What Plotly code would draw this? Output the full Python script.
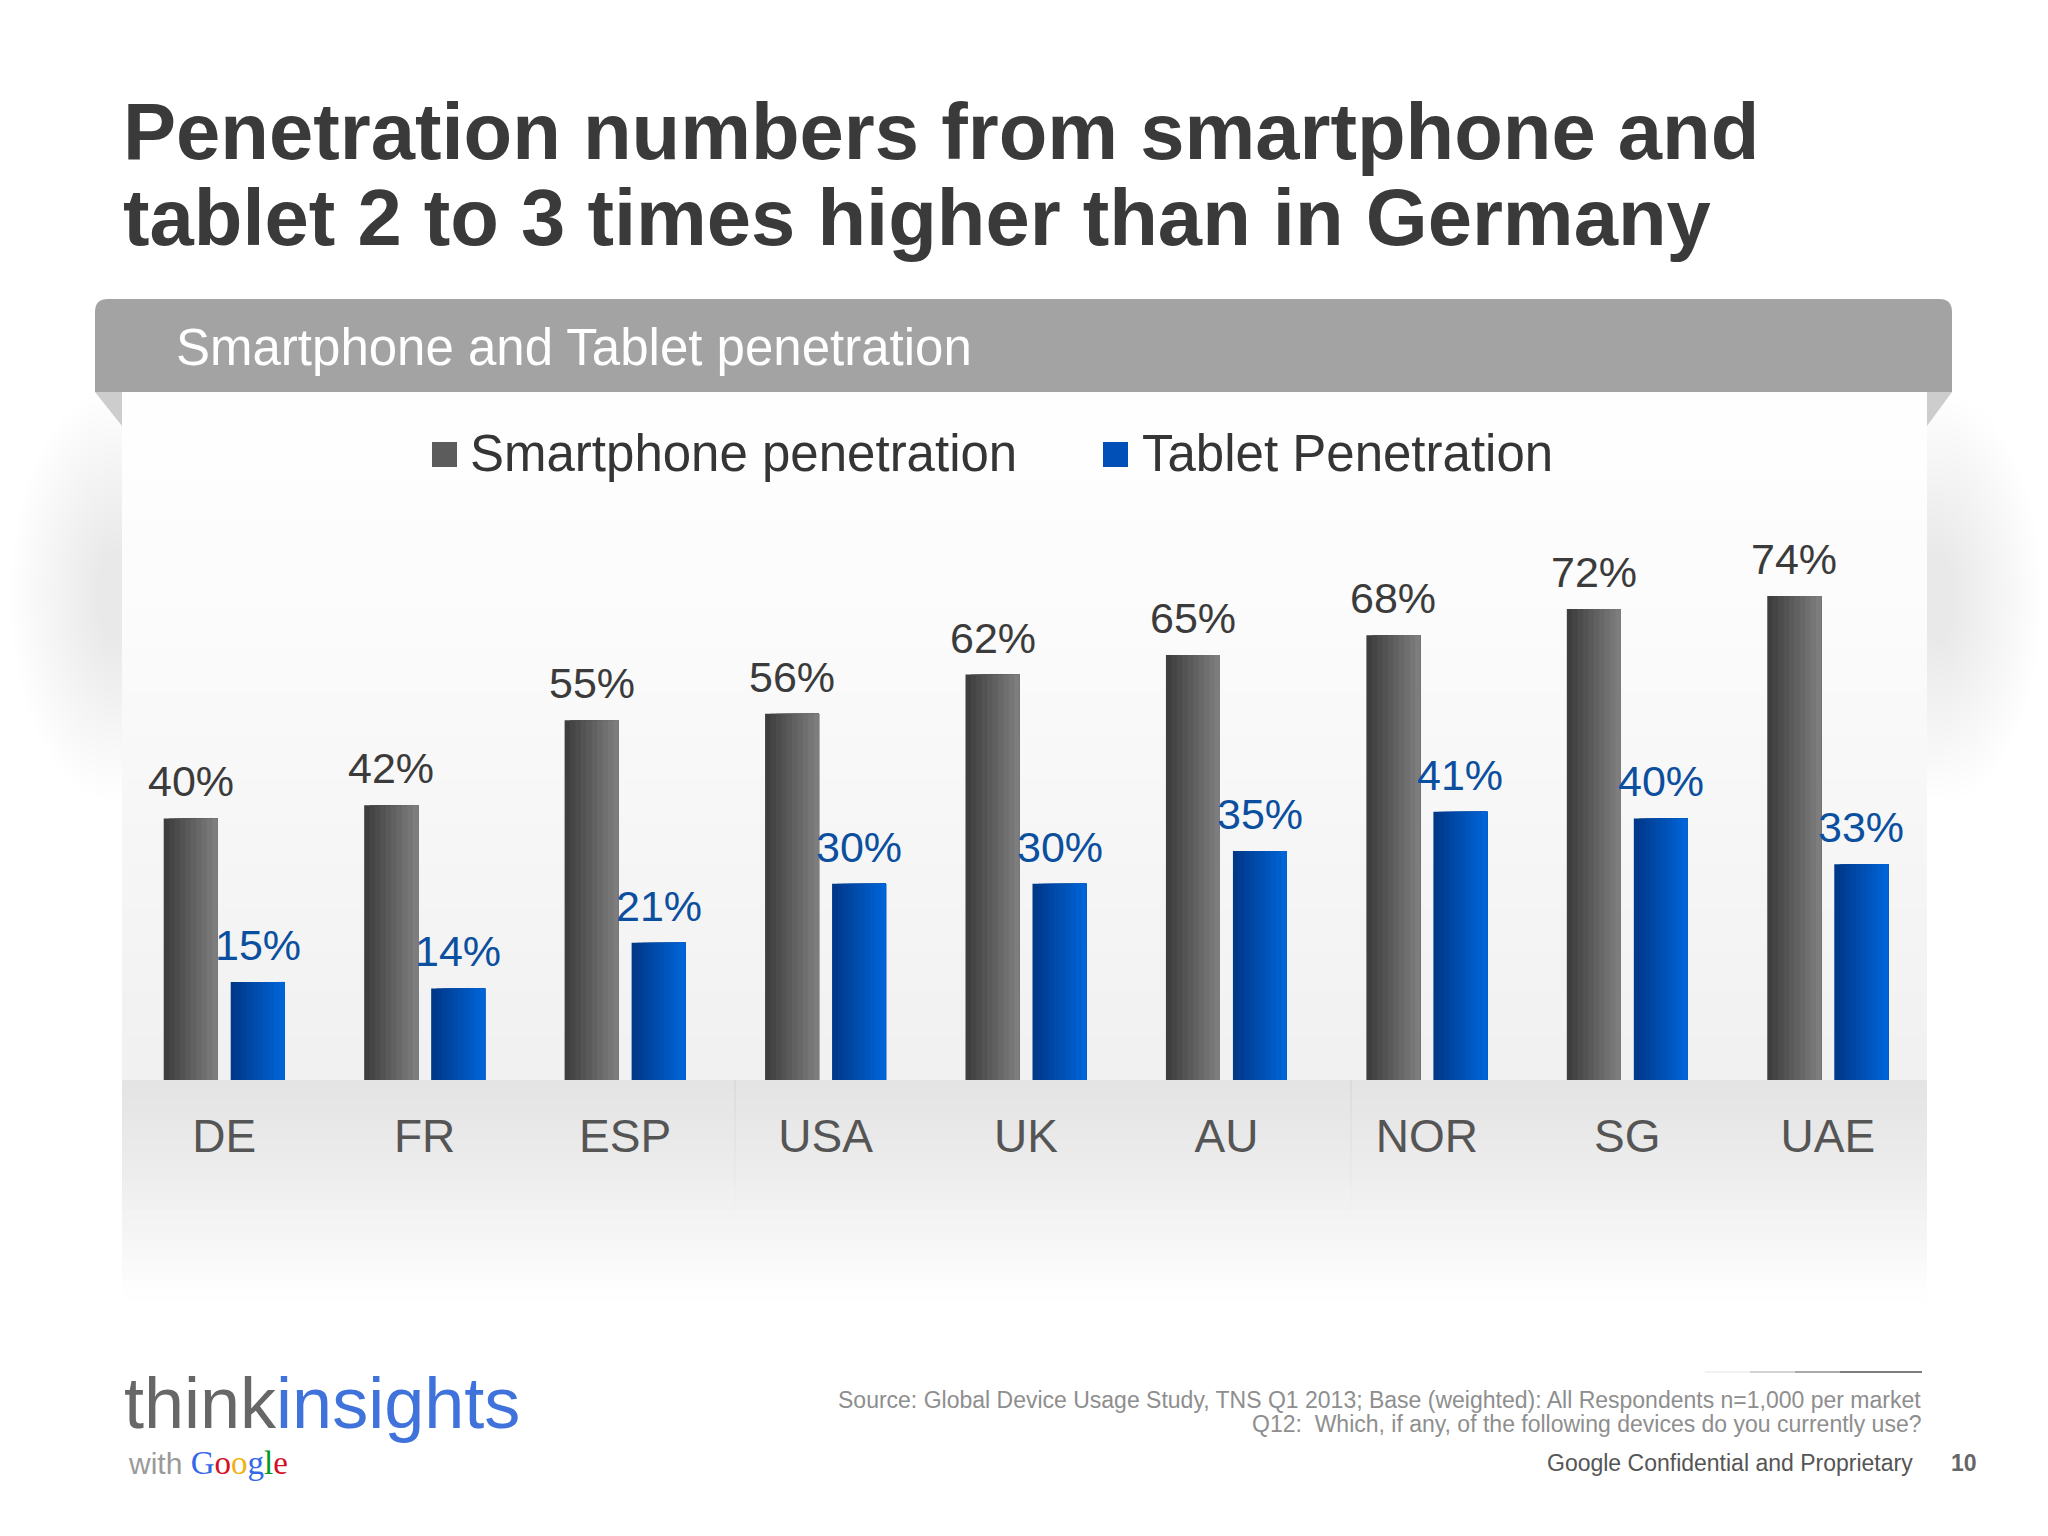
import plotly.graph_objects as go

# ---------------- data ----------------
categories = ["DE", "FR", "ESP", "USA", "UK", "AU", "NOR", "SG", "UAE"]
smartphone = [40, 42, 55, 56, 62, 65, 68, 72, 74]
tablet = [15, 14, 21, 30, 30, 35, 41, 40, 33]
series_names = ["Smartphone penetration", "Tablet Penetration"]
title_lines = ["Penetration numbers from smartphone and",
               "tablet 2 to 3 times higher than in Germany"]
panel_title = "Smartphone and Tablet penetration"
source_lines = ["Source: Global Device Usage Study, TNS Q1 2013; Base (weighted): All Respondents n=1,000 per market",
                "Q12:\u00a0 Which, if any, of the following devices do you currently use?"]
footer_text = "Google Confidential and Proprietary"
page_number = "10"

# ---------------- geometry (pixels) ----------------
FW, FH = 2048, 1536
L, R = 124, 1928          # plot area left/right
B, H = 1080, 654          # baseline and height of 0..100 %
T = B - H
W = R - L
CAT_PX = W / len(categories)
BAR_PX, GAP_PX = 54, 13

FONT = "Liberation Sans, Arial, sans-serif"


def px(x):
    return (x - L) / W


def py(y):
    return (B - y) / H


def hexc(rgb):
    return "#%02x%02x%02x" % tuple(int(round(v)) for v in rgb)


def mix(c0, c1, t):
    return hexc([a + (b - a) * t for a, b in zip(c0, c1)])


fig = go.Figure()

# ---------------- bars (gradient via overlapping strips) ----------------
def add_series(values, name, c0, c1, left_px, n=10):
    for i in range(n):
        t = i / (n - 1)
        off = (left_px + i * BAR_PX / n) / CAT_PX
        wid = (BAR_PX - i * BAR_PX / n) / CAT_PX
        fig.add_trace(go.Bar(
            x=categories, y=values, name=name, legendgroup=name,
            offset=off, width=wid,
            marker=dict(color=mix(c0, c1, t), line=dict(width=0)),
            showlegend=False,
            hoverinfo="x+y+name" if i == 0 else "skip",
        ))


add_series(smartphone, series_names[0], (0x3e, 0x3e, 0x3e), (0x7d, 0x7d, 0x7d), -(GAP_PX / 2 + BAR_PX))
add_series(tablet, series_names[1], (0x00, 0x38, 0x8a), (0x00, 0x64, 0xd6), GAP_PX / 2)

shift = GAP_PX / 2 + BAR_PX / 2
annotations = []
for c, v in zip(categories, smartphone):
    annotations.append(dict(x=c, y=v, xref="x", yref="y", text=f"{v}%", showarrow=False,
                            xanchor="center", yanchor="bottom", xshift=-shift, yshift=13,
                            borderpad=0, borderwidth=0,
                            font=dict(family=FONT, size=43, color="#3b3b3b")))
for c, v in zip(categories, tablet):
    annotations.append(dict(x=c, y=v, xref="x", yref="y", text=f"{v}%", showarrow=False,
                            xanchor="center", yanchor="bottom", xshift=shift, yshift=13,
                            borderpad=0, borderwidth=0,
                            font=dict(family=FONT, size=43, color="#0b4f9e")))


def text_ann(text, x, y, size, color, anchor="left", family=FONT):
    return dict(x=px(x), y=py(y), xref="paper", yref="paper", text=text, showarrow=False,
                xanchor=anchor, yanchor="middle", borderpad=0, borderwidth=0,
                font=dict(family=family, size=size, color=color))


# title
annotations.append(text_ann("<b>" + title_lines[0] + "</b>", 123, 131.5, 79.6, "#3a3a3a"))
annotations.append(text_ann("<b>" + title_lines[1] + "</b>", 123, 217.5, 79.6, "#3a3a3a"))
# panel header
annotations.append(text_ann(panel_title, 176, 347.3, 51, "#ffffff"))
# legend
annotations.append(text_ann(series_names[0], 470, 453.3, 51, "#353535"))
annotations.append(text_ann(series_names[1], 1142, 453.3, 51, "#353535"))
# footer
annotations.append(text_ann(source_lines[0], 1921, 1400.0, 23, "#8e8e8e", anchor="right"))
annotations.append(text_ann(source_lines[1], 1921, 1424.0, 23, "#8e8e8e", anchor="right"))
annotations.append(text_ann(footer_text, 1913, 1463, 23, "#555555", anchor="right"))
annotations.append(text_ann("<b>" + page_number + "</b>", 1951, 1463, 23, "#666666"))
# logo
annotations.append(text_ann("<span style='color:#676767'>think</span><span style='color:#3f72da'>insights</span>",
                            124, 1428 - 0.3465 * 72, 72, "#676767"))
annotations.append(text_ann("<span style='color:#9a9a9a'>with</span> "
                            "<span style='font-family:Liberation Serif, serif;font-size:33px'>"
                            "<span style='color:#3369e8'>G</span><span style='color:#d50f25'>o</span>"
                            "<span style='color:#eeb211'>o</span><span style='color:#3369e8'>g</span>"
                            "<span style='color:#009925'>l</span><span style='color:#d50f25'>e</span></span>",
                            128, 1474.5 - 11.2, 30, "#9a9a9a"))

# ---------------- decorative shapes ----------------
shapes = []


def rect(x0, y0, x1, y1, color, line=None):
    return dict(type="rect", xref="paper", yref="paper", x0=px(x0), x1=px(x1), y0=py(y1), y1=py(y0),
                fillcolor=color, line=dict(width=0) if line is None else line, layer="below")


# soft glows at the sides
NG = 22
for k in range(NG):
    f = 1 - k / NG
    for cx, cy in ((115, 595), (1937, 598)):
        rx, ry = 15 + 90 * f, 40 + 165 * f
        shapes.append(dict(type="circle", xref="paper", yref="paper",
                           x0=px(cx - rx), x1=px(cx + rx), y0=py(cy + ry), y1=py(cy - ry),
                           fillcolor="rgba(0,0,0,0.0046)", line=dict(width=0), layer="below"))

# panel background above baseline
PX0, PX1 = 122, 1927
nb = 16
top = 392
for i in range(nb):
    y0 = top + (B - top) * i / nb
    y1 = top + (B - top) * (i + 1) / nb + 0.5
    g = 254 - 13 * (i / (nb - 1)) ** 1.3
    shapes.append(rect(PX0, y0, PX1, y1, hexc((g, g, g))))

# band under baseline fading out
nb2 = 22
for i in range(nb2):
    y0 = B + 10 * i
    y1 = B + 10 * (i + 1) + 0.5
    t = i / (nb2 - 1)
    g = 228 + 26 * t ** 1.2
    shapes.append(rect(PX0, y0, PX1, y1, hexc((g, g, g))))

# subtle column dividers in the band
for xd in (734, 1350):
    for i in range(12):
        t = i / 11
        shapes.append(rect(xd, B + 12 * i, xd + 2, B + 12 * (i + 1), "rgba(0,0,0,%.3f)" % (0.035 * (1 - t))))

# header bar with rounded top corners
hx0, hx1, hy0, hy1, rr = 95, 1952, 299, 392, 13
path = (f"M {px(hx0)},{py(hy1)} L {px(hx0)},{py(hy0 + rr)} Q {px(hx0)},{py(hy0)} {px(hx0 + rr)},{py(hy0)} "
        f"L {px(hx1 - rr)},{py(hy0)} Q {px(hx1)},{py(hy0)} {px(hx1)},{py(hy0 + rr)} L {px(hx1)},{py(hy1)} Z")
shapes.append(dict(type="path", xref="paper", yref="paper", path=path, fillcolor="#a3a3a3",
                   line=dict(width=0), layer="below"))
# folded corners
shapes.append(dict(type="path", xref="paper", yref="paper",
                   path=f"M {px(hx0)},{py(hy1)} L {px(PX0)},{py(hy1)} L {px(PX0)},{py(426)} Z",
                   fillcolor="#cdcdcd", line=dict(width=0), layer="below"))
shapes.append(dict(type="path", xref="paper", yref="paper",
                   path=f"M {px(PX1)},{py(hy1)} L {px(hx1)},{py(hy1)} L {px(PX1)},{py(426)} Z",
                   fillcolor="#cdcdcd", line=dict(width=0), layer="below"))

# legend swatches
shapes.append(rect(432, 442, 457, 467, "#5c5c5c"))
shapes.append(rect(1103, 442, 1128, 467, "#0050b8"))

# thin rule above source note
for i, a in enumerate((0.05, 0.12, 0.2, 0.25)):
    x0 = 1705 + i * 45
    shapes.append(dict(type="line", xref="paper", yref="paper", x0=px(x0), x1=px(1922), y0=py(1372), y1=py(1372),
                       line=dict(color="rgba(0,0,0,%.2f)" % a, width=2), layer="below"))

fig.update_layout(
    width=FW, height=FH,
    margin=dict(l=L, r=FW - R, t=T, b=FH - B, pad=0),
    paper_bgcolor="#ffffff", plot_bgcolor="rgba(0,0,0,0)",
    barmode="overlay",
    showlegend=False,
    xaxis=dict(type="category", range=[-0.5, len(categories) - 0.5], showgrid=False, zeroline=False,
               showline=False, ticks="", ticklabelstandoff=25,
               tickfont=dict(family=FONT, size=46, color="#555555"), fixedrange=True),
    yaxis=dict(range=[0, 100], visible=False, fixedrange=True),
    annotations=annotations,
    shapes=shapes,
    font=dict(family=FONT),
)

fig.write_html("out.html", config=dict(displayModeBar=False),
               post_script="document.body.style.margin='0';document.body.style.overflow='hidden';")
